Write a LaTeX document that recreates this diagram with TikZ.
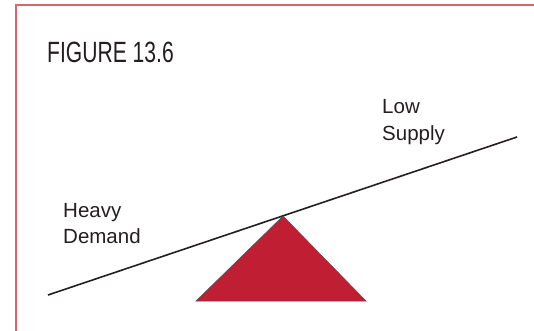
\documentclass[tikz,border=0pt]{standalone}
\usepackage{fontspec}
\setmainfont{Liberation Sans}
\newfontfamily\figfont[FakeStretch=0.72]{Liberation Sans}
\usepackage{xcolor}
\usetikzlibrary{calc, positioning}
\definecolor{frame}{HTML}{D9646F}
\definecolor{wedge}{HTML}{C01F33}
\definecolor{ink}{HTML}{231F20}

\begin{document}
\begin{tikzpicture}[x=1pt, y=-1pt]
  \useasboundingbox (0,0) rectangle (534,331);
  % Frame
  \draw[frame, line width=2pt] (15.5,331) -- (15.5,5) -- (534,5);
  % Title
  \node[anchor=base west, inner sep=0pt, font=\figfont\fontsize{29.3}{30}\selectfont, text=ink]
    (title) at (47,63) {FIGURE 13.6};
  % Seesaw plank
  \coordinate (left end) at (48,295);
  \coordinate (right end) at (517,137);
  \draw[ink, line width=1.6pt] (left end) -- (right end);
  % Fulcrum
  \coordinate (apex) at (283,216);
  \filldraw[fill=wedge, draw=ink!80, line width=0.5pt]
    (apex) -- (366,301) -- (196,301) -- cycle;
  % Labels (base = last line)
  \node[anchor=base west, inner sep=0pt, align=left, text=ink,
    font=\fontsize{20.5}{26}\selectfont] (supply) at (382,140) {Low\\Supply};
  \node[anchor=base west, inner sep=0pt, align=left, text=ink,
    font=\fontsize{20.5}{26}\selectfont] (demand) at (63,243) {Heavy\\Demand};
\end{tikzpicture}
\end{document}
